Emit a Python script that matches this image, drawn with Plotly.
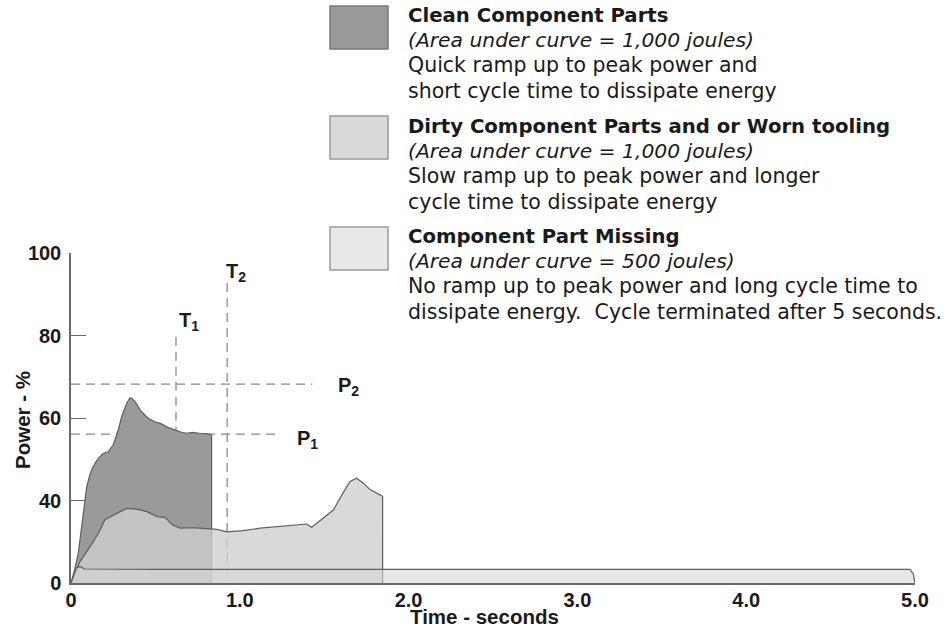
import plotly.graph_objects as go

# ---------------- data ----------------
# The reference y axis is evenly spaced but labelled 0,40,60,80,100
# (its bottom tick sits where 20 would be), so values are stored on that axis' scale.
y_tickvals = [20, 40, 60, 80, 100]
y_ticktext = ["0", "40", "60", "80", "100"]
x_tickvals = [0, 1, 2, 3, 4, 5]
x_ticktext = ["0", "1.0", "2.0", "3.0", "4.0", "5.0"]

clean_t = [0.0, 0.02, 0.043, 0.06, 0.073, 0.093, 0.11, 0.122, 0.145, 0.162, 0.19, 0.22, 0.25,
           0.28, 0.30, 0.33, 0.35, 0.36, 0.38, 0.41, 0.44, 0.46, 0.50, 0.53, 0.57, 0.61,
           0.65, 0.685, 0.72, 0.76, 0.80, 0.833, 0.833]
clean_p = [20, 23, 27.2, 33, 36.9, 43.3, 46, 47.4, 49.2, 50.2, 51.4, 51.8, 53.5,
           57.1, 60.3, 63.6, 64.9, 64.8, 64.0, 61.9, 60.6, 59.9, 59.0, 58.7, 57.8, 57.1,
           56.6, 56.3, 56.5, 56.3, 56.2, 55.9, 20]

dirty_t = [0.0, 0.053, 0.113, 0.162, 0.2, 0.25, 0.29, 0.33, 0.39, 0.45, 0.51, 0.557,
           0.6, 0.646, 0.70, 0.764, 0.863, 0.922, 1.02, 1.12, 1.22, 1.317, 1.396, 1.426,
           1.495, 1.554, 1.604, 1.653, 1.692, 1.732, 1.77, 1.84, 1.846, 1.846]
dirty_p = [20, 25.2, 28.8, 32.0, 35.3, 36.5, 37.3, 38.1, 37.9, 37.3, 36.1, 35.9,
           34.1, 33.3, 33.4, 33.3, 33.0, 32.4, 32.7, 33.3, 33.7, 34.1, 34.3, 33.5,
           35.7, 37.7, 41.3, 44.6, 45.4, 44.2, 42.7, 41.3, 41.0, 20]

missing_t = [0.0, 0.03, 0.053, 0.08, 0.5, 1.0, 2.0, 3.0, 4.0, 4.97, 4.99, 5.0]
missing_p = [20, 23.6, 24.0, 23.4, 23.3, 23.3, 23.3, 23.3, 23.3, 23.3, 22.2, 20]

T1_TIME, T1_TOP = 0.622, 79.7
T2_TIME, T2_TOP = 0.925, 92.7
P1_POWER, P1_END = 56.1, 1.22
P2_POWER, P2_END = 68.2, 1.43

legend_titles = ["Clean Component Parts",
                 "Dirty Component Parts and or Worn tooling",
                 "Component Part Missing"]
legend_areas = ["(Area under curve = 1,000 joules)",
                "(Area under curve = 1,000 joules)",
                "(Area under curve = 500 joules)"]
legend_desc = [["Quick ramp up to peak power and", "short cycle time to dissipate energy"],
               ["Slow ramp up to peak power and longer", "cycle time to dissipate energy"],
               ["No ramp up to peak power and long cycle time to",
                "dissipate energy.  Cycle terminated after 5 seconds."]]

# ---------------- layout geometry ----------------
W, H = 947, 629
L, R, T, B = 71, 32, 253, 46
PW, PH = W - L - R, H - T - B

def px2paper_x(px):
    return (px - L) / PW

def px2paper_y(py):
    return (H - B - py) / PH

SANS = "Liberation Sans, Arial, sans-serif"
TICK_FONT = dict(family=SANS, size=20, color="#1a1a1a", weight="bold")
TITLE_FONT = dict(family=SANS, size=20.5, color="#1a1a1a", weight="bold")
LEG_FONT = "DejaVu Sans, Liberation Sans, sans-serif"

fig = go.Figure()

fig.add_trace(go.Scatter(x=clean_t, y=clean_p, mode="lines", fill="toself",
                         fillcolor="rgb(154,154,154)",
                         line=dict(color="#5e5e5e", width=1.2), hoverinfo="skip",
                         showlegend=False))
fig.add_trace(go.Scatter(x=dirty_t, y=dirty_p, mode="lines", fill="toself",
                         fillcolor="rgba(206,206,206,0.78)",
                         line=dict(color="#5e5e5e", width=1.2), hoverinfo="skip",
                         showlegend=False))
fig.add_trace(go.Scatter(x=missing_t, y=missing_p, mode="lines", fill="toself",
                         fillcolor="rgba(215,215,215,0.6)",
                         line=dict(color="#5e5e5e", width=1.2), hoverinfo="skip",
                         showlegend=False))

dash = dict(color="#8a8a8a", width=1.3, dash="9px,6px")
shapes = [
    dict(type="line", xref="x", yref="y", x0=T1_TIME, x1=T1_TIME, y0=T1_TOP, y1=20,
         line=dash, layer="below"),
    dict(type="line", xref="x", yref="y", x0=T2_TIME, x1=T2_TIME, y0=T2_TOP, y1=20,
         line=dash, layer="below"),
    dict(type="line", xref="x", yref="y", x0=0, x1=P1_END, y0=P1_POWER, y1=P1_POWER,
         line=dash, layer="below"),
    dict(type="line", xref="x", yref="y", x0=0, x1=P2_END, y0=P2_POWER, y1=P2_POWER,
         line=dash, layer="below"),
]

# legend swatches (drawn as shapes)
box_px = [(6, 49), (116, 159), (227, 270)]
box_fill = ["#999999", "#d9d9d9", "#e8e8e8"]
box_line = ["#7a7a7a", "#9a9a9a", "#9a9a9a"]
for (ytop, ybot), fc, lc in zip(box_px, box_fill, box_line):
    shapes.append(dict(type="rect", xref="paper", yref="paper",
                       x0=px2paper_x(330), x1=px2paper_x(388),
                       y0=px2paper_y(ybot), y1=px2paper_y(ytop),
                       fillcolor=fc, line=dict(color=lc, width=1.5)))

annotations = []
group_top = [15, 126, 236]
spacing = 25.2
for i in range(3):
    lines = [("<b>%s</b>" % legend_titles[i], 19.7),
             ("<i>%s</i>" % legend_areas[i], 20.3)] + [(d, 20.5) for d in legend_desc[i]]
    for j, (txt, fs) in enumerate(lines):
        annotations.append(dict(text=txt, xref="paper", yref="paper",
                                x=px2paper_x(406), y=px2paper_y(group_top[i] + j * spacing),
                                xanchor="left", yanchor="middle", showarrow=False,
                                font=dict(family=LEG_FONT, size=fs, color="#1a1a1a")))

# marker labels T1, T2, P1, P2
for label, xv, yv in [("T<sub>1</sub>", 0.628, 83.3), ("T<sub>2</sub>", 0.906, 95.2),
                      ("P<sub>1</sub>", 1.325, 54.8), ("P<sub>2</sub>", 1.568, 67.6)]:
    annotations.append(dict(text="<b>%s</b>" % label, x=xv, y=yv, xref="x", yref="y",
                            xanchor="left", yanchor="middle", showarrow=False,
                            font=dict(family=SANS, size=20, color="#1a1a1a")))

# axis titles
annotations.append(dict(text="<b>Time - seconds</b>", xref="paper", yref="paper",
                        x=px2paper_x(484), y=px2paper_y(616), xanchor="center",
                        yanchor="middle", showarrow=False, font=TITLE_FONT))
annotations.append(dict(text="<b>Power - %</b>", xref="paper", yref="paper",
                        x=px2paper_x(22), y=px2paper_y(420), xanchor="center",
                        yanchor="middle", showarrow=False, textangle=-90, font=TITLE_FONT))

fig.update_layout(
    width=W, height=H,
    margin=dict(l=L, r=R, t=T, b=B, pad=0, autoexpand=False),
    paper_bgcolor="white", plot_bgcolor="white",
    shapes=shapes, annotations=annotations,
    showlegend=False,
    xaxis=dict(range=[0, 5], tickvals=x_tickvals, ticktext=x_ticktext,
               showgrid=False, zeroline=False, showline=True, linecolor="#6a6a6a",
               linewidth=1.5, ticks="", tickfont=TICK_FONT,
               ticklabelstandoff=-2, fixedrange=True, automargin=False),
    yaxis=dict(range=[20, 100], tickvals=y_tickvals, ticktext=y_ticktext,
               showgrid=False, zeroline=False, showline=True, linecolor="#6a6a6a",
               linewidth=1.5, ticks="inside", ticklen=15, tickcolor="#6a6a6a",
               tickwidth=1.2, tickfont=TICK_FONT, ticklabelstandoff=4,
               fixedrange=True, automargin=False),
)

# remove the page's default 8px body margin so the figure fills the window
fig.write_html("out.html", config={"displayModeBar": False},
               post_script="document.body.style.margin='0';")
